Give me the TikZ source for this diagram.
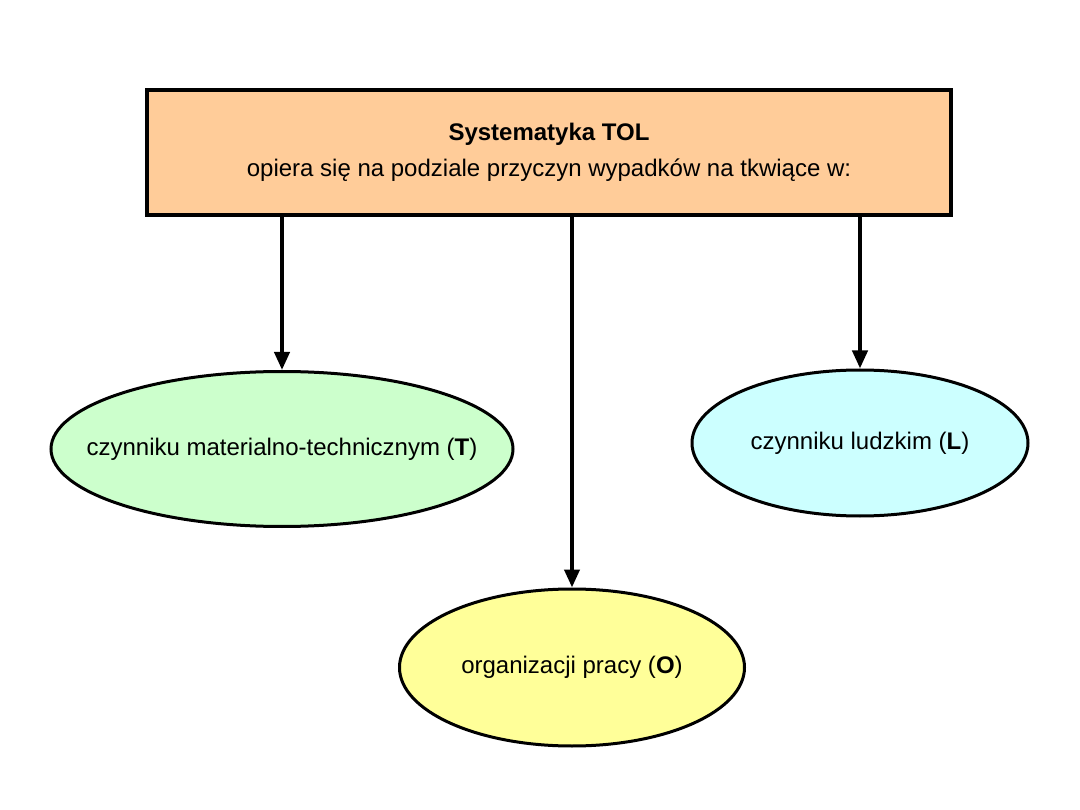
\documentclass[tikz,border=0pt]{standalone}
\usepackage{fontspec}
\setmainfont{Liberation Sans}
\usetikzlibrary{shapes.geometric,arrows.meta}
\definecolor{boxfill}{HTML}{FFCC99}
\definecolor{tfill}{HTML}{CCFFCC}
\definecolor{lfill}{HTML}{CCFFFF}
\definecolor{ofill}{HTML}{FFFF99}
\tikzset{
  headbox/.style={draw=black, line width=4pt, fill=boxfill, minimum width=804pt, minimum height=125pt, inner sep=0pt, align=center, font=\fontsize{24}{36}\selectfont},
  factor/.style={draw=black, line width=3pt, ellipse, inner sep=0pt, font=\fontsize{24}{28}\selectfont},
  link/.style={line width=4pt, -{Triangle[width=15pt,length=18pt]}}
}
\begin{document}
\begin{tikzpicture}[x=1pt,y=-1pt]
\useasboundingbox (0,0) rectangle (1080,810);
\node[headbox] (top) at (549,152.5) {\textbf{Systematyka TOL}\\opiera się na podziale przyczyn wypadków na tkwiące w:};
\node[factor, fill=tfill, minimum width=462pt, minimum height=155pt] (T) at (282,449) {\makebox[0pt]{czynniku materialno-technicznym (\textbf{T})}};
\node[factor, fill=lfill, minimum width=336pt, minimum height=146pt] (L) at (860,443) {\makebox[0pt]{czynniku ludzkim (\textbf{L})}};
\node[factor, fill=ofill, minimum width=345pt, minimum height=157pt] (O) at (572,667.5) {\makebox[0pt]{organizacji pracy (\textbf{O})}};
\draw[link] (T.north |- top.south) -- (T.north);
\draw[link] (L.north |- top.south) -- (L.north);
\draw[link] (O.north |- top.south) -- (O.north);
\end{tikzpicture}
\end{document}
